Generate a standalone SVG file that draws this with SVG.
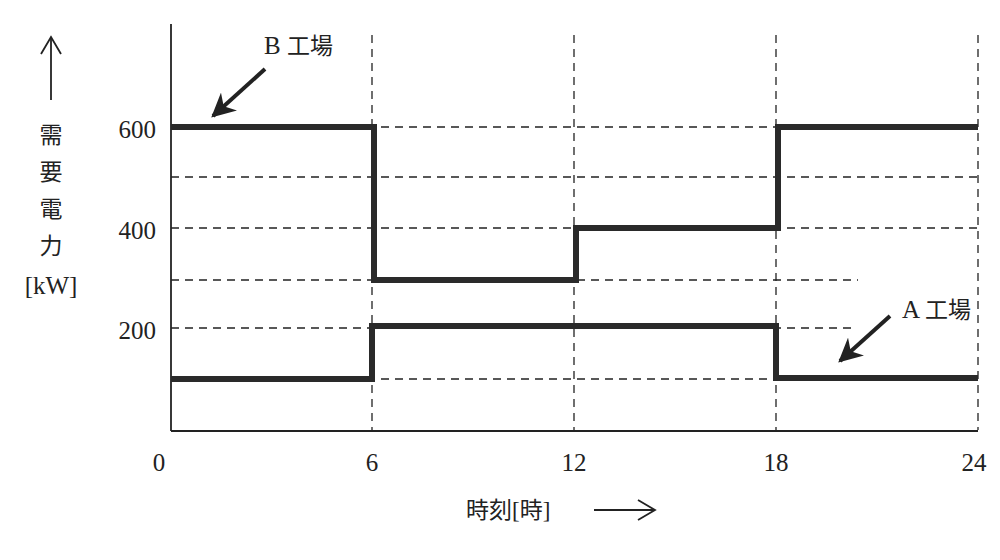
<svg xmlns="http://www.w3.org/2000/svg" width="1000" height="560" viewBox="0 0 1000 560">
<defs>
<marker id="ah" viewBox="0 0 10 10" refX="9" refY="5" markerWidth="6" markerHeight="6" orient="auto"><path d="M0,0 L10,5 L0,10 L3,5 z" fill="#222"/></marker>
<style>
.t{font-family:"Liberation Serif","Noto Sans CJK JP",serif;font-size:25px;fill:#222}
.j{font-size:23px}
.d{stroke:#222;stroke-width:1.3;stroke-dasharray:8,6;fill:none}
.a{stroke:#222;stroke-width:1.8;fill:none}
.p{stroke:#2a2a2a;stroke-width:6;fill:none}
</style>
</defs>
<rect width="1000" height="560" fill="#fff"/>
<g id="grid">
<line class="d" x1="372" y1="35" x2="372" y2="430"/>
<line class="d" x1="574" y1="35" x2="574" y2="430"/>
<line class="d" x1="776" y1="35" x2="776" y2="430"/>
<line class="d" x1="978" y1="35" x2="978" y2="430"/>
<line class="d" x1="171" y1="127" x2="978" y2="127"/>
<line class="d" x1="171" y1="177" x2="978" y2="177"/>
<line class="d" x1="171" y1="228" x2="978" y2="228"/>
<line class="d" x1="171" y1="280" x2="858" y2="280"/>
<line class="d" x1="171" y1="328" x2="852" y2="328"/>
<line class="d" x1="171" y1="379" x2="978" y2="379"/>
</g>
<g id="axes">
<line class="a" x1="171" y1="24" x2="171" y2="431"/>
<line class="a" x1="171" y1="431" x2="978" y2="431"/>
<line class="a" x1="51" y1="100" x2="51" y2="38"/>
<path class="a" d="M41,54 L51,37 L61,54"/>
<line class="a" x1="594" y1="510" x2="654" y2="510"/>
<path class="a" d="M638,500 L655,510 L638,520"/>
</g>
<g id="lineB"><path class="p" d="M171,127 H374 V280 H576 V228 H778 V127 H978"/></g>
<g id="lineA"><path class="p" d="M171,379 H372 V326 H776 V378 H978"/></g>
<g id="connectors">
<line x1="265" y1="69" x2="213" y2="116" stroke="#222" stroke-width="4" marker-end="url(#ah)"/>
<line x1="890" y1="316" x2="840" y2="361" stroke="#222" stroke-width="4" marker-end="url(#ah)"/>
</g>
<g id="labels">
<text class="t" x="264" y="54">B <tspan class="j">工場</tspan></text>
<text class="t" x="902" y="318">A <tspan class="j">工場</tspan></text>
<text class="t" x="156" y="138" text-anchor="end">600</text>
<text class="t" x="156" y="239" text-anchor="end">400</text>
<text class="t" x="156" y="339" text-anchor="end">200</text>
<text class="t" x="159" y="471" text-anchor="middle">0</text>
<text class="t" x="372" y="471" text-anchor="middle">6</text>
<text class="t" x="574" y="471" text-anchor="middle">12</text>
<text class="t" x="776" y="471" text-anchor="middle">18</text>
<text class="t" x="974" y="471" text-anchor="middle">24</text>
<text class="t j" x="51" y="143" text-anchor="middle">需</text>
<text class="t j" x="51" y="180" text-anchor="middle">要</text>
<text class="t j" x="51" y="217" text-anchor="middle">電</text>
<text class="t j" x="51" y="254" text-anchor="middle">力</text>
<text class="t" x="51" y="294" text-anchor="middle">[kW]</text>
<text class="t j" x="466" y="518">時刻[時]</text>
</g>
</svg>
